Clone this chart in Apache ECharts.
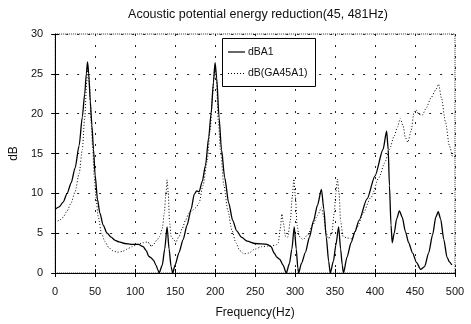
<!DOCTYPE html>
<html>
<head>
<meta charset="utf-8">
<script src="https://cdn.jsdelivr.net/npm/echarts@6/dist/echarts.min.js"></script>
<style>
  html, body { margin: 0; padding: 0; background: #fff; }
  #chart { width: 471px; height: 324px; }
</style>
</head>
<body>
<div id="chart"></div>
<script>
// Frequency axis ticks (Hz) and level ticks (dB)
const freqTicks = [0, 50, 100, 150, 200, 250, 300, 350, 400, 450, 500];
const dbTicks = [0, 5, 10, 15, 20, 25, 30];
const seriesNames = ['dBA1', 'dB(GA45A1)'];

// dBA1 curve
const dba1Freq = [0, 5, 10, 15, 20, 25, 30, 34, 37, 39, 40.5, 42, 44, 46, 48, 50, 53, 56, 60, 65, 70, 75, 80, 87, 95, 104,
  110, 114, 117, 120, 123, 126, 128.5, 130, 134, 137, 140, 142.5, 145, 147, 150, 155, 160, 165, 170, 174, 177, 180, 184,
  188, 192, 195, 198, 200, 202, 205, 208, 212, 217, 222, 227, 233, 240, 250, 265, 270, 274, 277, 281, 285, 289, 293, 296,
  299, 301.5, 303.5, 304.5, 308, 313, 318, 323, 328, 333, 336, 339, 342, 344, 348, 351, 354.5, 357, 359, 360.5, 365, 370,
  375, 380, 390, 400, 410, 414.5, 416.5, 418, 420, 421.5, 424, 427, 430.5, 434, 438, 442, 447, 452, 457, 462, 467, 472,
  476, 479, 482, 486, 490, 493, 496];
const dba1Db = [8.0, 8.3, 8.9, 10.0, 11.3, 13.2, 16.0, 19.6, 22.5, 25.0, 26.5, 25.0, 21.5, 18.5, 15.5, 12.3, 9.2, 7.5, 6.0,
  5.0, 4.5, 4.1, 3.9, 3.7, 3.6, 3.6, 3.3, 2.8, 2.1, 1.9, 1.6, 1.0, 0.4, 0, 1.0, 3.0, 5.8, 3.0, 0.8, 0, 1.0, 2.6, 4.2, 6.0,
  8.0, 9.9, 10.3, 10.2, 11.5, 13.5, 17.0, 20.0, 24.0, 26.4, 24.5, 19.5, 15.5, 12.0, 8.8, 6.6, 5.3, 4.5, 4.0, 3.7, 3.6,
  3.3, 2.5, 2.0, 1.7, 1.0, 0, 1.2, 3.0, 5.8, 3.0, 0.6, 0, 1.2, 2.6, 4.5, 6.5, 8.5, 10.5, 8.0, 4.5, 1.5, 0, 1.5, 3.5, 5.8,
  3.0, 1.0, 0, 2.0, 3.8, 5.2, 6.6, 9.3, 12.2, 15.5, 17.8, 15.5, 11.0, 6.0, 3.8, 5.0, 6.8, 7.8, 7.0, 5.2, 3.8, 2.5, 1.3,
  0.45, 0.8, 2.5, 4.8, 7.0, 7.7, 6.8, 4.2, 2.0, 1.4, 1.0];

// dB(GA45A1) curve
const ga45Freq = [0, 5, 10, 15, 20, 25, 30, 34, 37, 39.5, 41, 43, 45, 47, 49, 51, 54, 58, 62, 67, 72, 78, 84, 90, 96, 103,
  110, 116, 118.5, 120, 123, 127, 131, 134, 136.5, 138.5, 140, 141.5, 143, 145, 148, 151, 155, 159, 163, 167, 172, 176,
  180, 185, 190, 194, 197, 199.5, 201.5, 204, 207, 211, 216, 221, 226, 231, 236, 242, 250, 258, 268, 276, 279, 281.5,
  283.5, 285.5, 288, 291, 294, 296.5, 298.5, 300.5, 302.5, 305, 310, 316, 322, 328, 333, 336, 339, 342, 346, 349, 351,
  353, 355, 357, 360, 365, 371, 378, 385, 395, 405, 412, 418, 424, 428, 431.5, 435, 438, 441, 445, 449, 451, 455, 459,
  464, 470, 476, 479.5, 483, 488, 493, 497, 500];
const ga45Db = [6.3, 6.6, 7.0, 7.8, 8.8, 10.2, 12.5, 15.5, 19.5, 24.0, 26.0, 23.5, 19.0, 15.5, 12.0, 9.5, 7.0, 5.0, 4.0,
  3.2, 2.8, 2.6, 2.7, 3.0, 3.3, 3.6, 3.8, 3.9, 3.6, 3.3, 3.6, 4.1, 4.6, 5.6, 7.5, 10.0, 11.7, 10.0, 6.5, 4.6, 4.2, 3.9,
  4.6, 5.6, 6.6, 7.5, 7.9, 8.2, 8.8, 11.0, 14.0, 18.0, 22.5, 26.0, 24.5, 19.0, 15.2, 11.0, 7.8, 5.4, 3.8, 2.8, 2.4, 2.5,
  3.0, 3.3, 3.4, 3.5, 3.8, 5.5, 7.4, 6.2, 4.6, 4.5, 6.5, 9.5, 11.8, 9.5, 6.0, 4.6, 4.2, 4.8, 6.0, 7.2, 8.2, 7.0, 5.0,
  4.3, 5.0, 7.5, 10.0, 11.8, 10.0, 6.5, 4.6, 4.4, 4.3, 5.8, 7.5, 9.5, 12.0, 13.8, 15.5, 17.2, 18.3, 19.4, 18.5, 17.0,
  16.4, 17.8, 20.3, 20.5, 19.9, 19.8, 20.7, 22.0, 23.0, 23.7, 22.0, 19.0, 16.0, 14.6, 14.6];

const pairs = (xs, ys) => xs.map((x, i) => [x, ys[i]]);

const FONT = '"Liberation Sans", Arial, sans-serif';
const gridDash = { color: '#222', type: [2, 9], width: 1 };
const solidStyle = { color: '#000', width: 1.3, type: 'solid' };
const dottedStyle = { color: '#000', width: 1, type: [1, 2] };

// Boxed key in the upper middle of the plot, drawn as shapes + text
const keyBox = { x: 222, y: 38, w: 93, h: 48 };
const keyRowY = [52, 73.5];
const keyGraphics = [{
  type: 'rect', z: 100,
  shape: { x: keyBox.x + 0.5, y: keyBox.y + 0.5, width: keyBox.w, height: keyBox.h },
  style: { fill: '#fff', stroke: '#000', lineWidth: 1 }
}, {
  // solid sample: a thin filled bar
  type: 'rect', z: 101,
  shape: { x: 228, y: keyRowY[0] - 0.6, width: 17, height: 1.2 },
  style: { fill: '#000' }
}];
// dotted sample: a row of small dots
for (let x = 228; x <= 245; x += 3) {
  keyGraphics.push({
    type: 'rect', z: 101,
    shape: { x: x, y: keyRowY[1] - 0.5, width: 1, height: 1 },
    style: { fill: '#000' }
  });
}
seriesNames.forEach((label, i) => {
  keyGraphics.push({
    type: 'text', z: 101, x: 248, y: keyRowY[i],
    style: { text: label, fill: '#111', font: '10.5px ' + FONT, verticalAlign: 'middle' }
  });
});

const chart = echarts.init(document.getElementById('chart'), null, { renderer: 'canvas' });

chart.setOption({
  backgroundColor: '#fff',
  animation: false,
  title: {
    text: 'Acoustic potential energy reduction(45, 481Hz)',
    left: 253, textAlign: 'center', top: 3,
    textStyle: { fontFamily: FONT, fontSize: 12.5, fontWeight: 'normal', color: '#111' }
  },
  grid: {
    left: 51, right: 16, top: 34, bottom: 51,
    show: true, borderColor: '#333', borderWidth: 1, borderType: [1, 1], backgroundColor: 'transparent'
  },
  xAxis: [{
    type: 'value', min: 0, max: 500, interval: 50, position: 'bottom',
    name: 'Frequency(Hz)', nameLocation: 'middle', nameGap: 34,
    nameTextStyle: { fontFamily: FONT, fontSize: 12, color: '#111' },
    axisLine: { show: true, onZero: false, lineStyle: { color: '#000', width: 1 } },
    axisTick: { show: true, inside: true, length: 4, lineStyle: { color: '#000' } },
    axisLabel: { fontFamily: FONT, fontSize: 11, color: '#111', margin: 13,
      formatter: v => freqTicks.includes(v) ? String(v) : '' },
    splitLine: { show: true, lineStyle: gridDash }
  }, {
    type: 'value', min: 0, max: 500, interval: 50, position: 'top',
    axisLine: { show: false },
    axisTick: { show: true, inside: true, length: 4, lineStyle: { color: '#000' } },
    axisLabel: { show: false }, splitLine: { show: false }
  }],
  yAxis: [{
    type: 'value', min: 0, max: 30, interval: 5, position: 'left',
    name: 'dB', nameLocation: 'middle', nameGap: 27, nameRotate: 90,
    nameTextStyle: { fontFamily: FONT, fontSize: 12, color: '#111' },
    axisLine: { show: true, onZero: false, lineStyle: { color: '#000', width: 1 } },
    axisTick: { show: true, inside: true, length: 4, lineStyle: { color: '#000' } },
    axisLabel: { fontFamily: FONT, fontSize: 11, color: '#111', margin: 12,
      formatter: v => dbTicks.includes(v) ? String(v) : '' },
    splitLine: { show: true, lineStyle: gridDash }
  }, {
    type: 'value', min: 0, max: 30, interval: 5, position: 'right',
    axisLine: { show: false },
    axisTick: { show: true, inside: true, length: 4, lineStyle: { color: '#000' } },
    axisLabel: { show: false }, splitLine: { show: false }
  }],
  graphic: keyGraphics,
  series: [{
    name: seriesNames[0], type: 'line', xAxisIndex: 0, yAxisIndex: 0,
    data: pairs(dba1Freq, dba1Db),
    showSymbol: false, symbol: 'none', smooth: 0.25, smoothMonotone: 'x',
    lineStyle: solidStyle
  }, {
    name: seriesNames[1], type: 'line', xAxisIndex: 0, yAxisIndex: 0,
    data: pairs(ga45Freq, ga45Db),
    showSymbol: false, symbol: 'none', smooth: 0.25, smoothMonotone: 'x',
    lineStyle: dottedStyle
  }]
});
</script>
</body>
</html>
